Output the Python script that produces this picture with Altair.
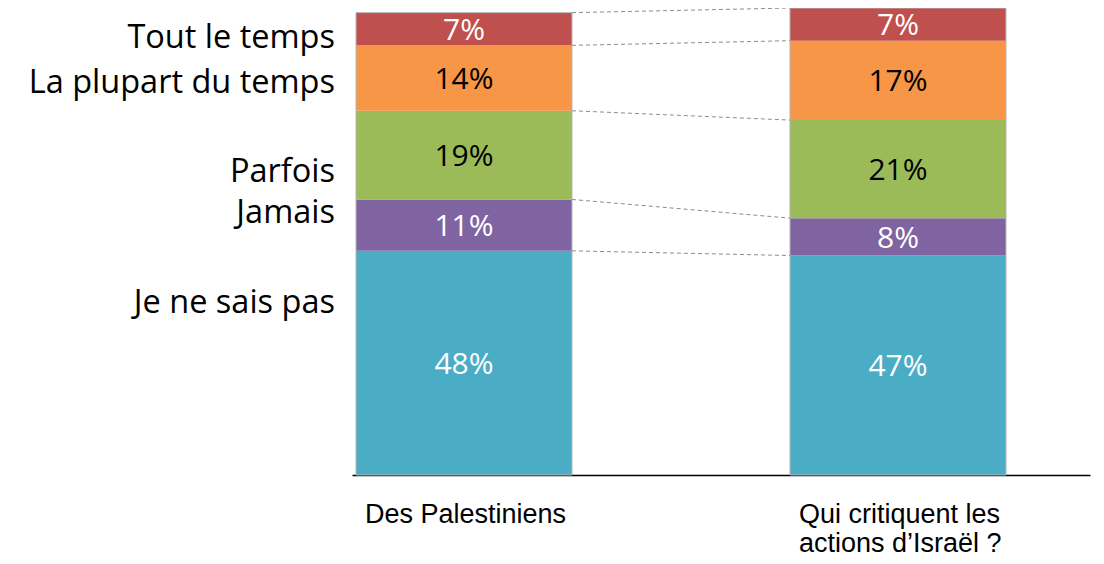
import altair as alt
import pandas as pd

# ---- data ----
categories = ["Des Palestiniens", "Qui critiquent les\nactions d\u2019Isra\u00ebl ?"]
responses = ["Je ne sais pas", "Jamais", "Parfois", "La plupart du temps", "Tout le temps"]  # bottom -> top
values_palestiniens = [48, 11, 19, 14, 7]
values_critiques = [47, 8, 21, 17, 7]
colors = ["#4BACC6", "#8064A2", "#9BBB59", "#F79646", "#C0504D"]
text_colors = ["white", "white", "black", "black", "white"]

# legend label baselines (layout, pixels from plot top)
legend_baseline = [305, 215, 174, 85, 40]

rows = []
for cat, vals in zip(categories, [values_palestiniens, values_critiques]):
    acc = 0
    for i, (r, v) in enumerate(zip(responses, vals)):
        rows.append(dict(cat=cat, resp=r, value=v, y0=acc, y1=acc + v,
                         mid=acc + v / 2, label=f"{v}%", tcolor=text_colors[i]))
        acc += v
df = pd.DataFrame(rows)

tot = df.groupby("cat", sort=False)["value"].sum().reset_index()

c1 = df[df.cat == categories[0]].reset_index(drop=True)
c2 = df[df.cat == categories[1]].reset_index(drop=True)
conn = pd.DataFrame(dict(a=categories[0], b=categories[1], ya=c1.y1, yb=c2.y1))

leg = pd.DataFrame(dict(resp=responses, ypx=legend_baseline))

xscale = alt.Scale(domain=categories, paddingInner=0.5023, paddingOuter=0.1014, align=0.0455)
yscale = alt.Scale(domain=[0, 100])
xaxis = alt.Axis(title=None, ticks=False, grid=False, domain=True,
                 domainColor="black", domainWidth=1.5,
                 labelFont="Liberation Sans", labelFontSize=27, labelColor="black",
                 labelAngle=0,
                 labelAlign="left", labelBaseline="top", labelOffset=-99,
                 labelPadding=26, labelLineHeight=29, labelLimit=500,
                 labelOverlap=False,
                 labelExpr="split(datum.label, '\\n')")

bars = alt.Chart(df).mark_bar().encode(
    x=alt.X("cat:N", scale=xscale, sort=categories, axis=xaxis),
    y=alt.Y("y0:Q", scale=yscale, axis=None),
    y2="y1:Q",
    color=alt.Color("resp:N", scale=alt.Scale(domain=responses, range=colors), legend=None),
)

outline = alt.Chart(tot).mark_bar(fill="transparent", stroke="#b5b5b5", strokeWidth=1).encode(
    x=alt.X("cat:N", scale=xscale, sort=categories, axis=xaxis),
    y=alt.Y("value:Q", scale=yscale, axis=None),
)

connectors = alt.Chart(conn).mark_rule(color="#8c8c8c", strokeDash=[4, 3], strokeWidth=1).encode(
    x=alt.X("a:N", scale=xscale, bandPosition=1, axis=xaxis),
    x2=alt.X2("b:N", bandPosition=0),
    y=alt.Y("ya:Q", scale=yscale, axis=None),
    y2="yb:Q",
)

pct = alt.Chart(df).mark_text(font="Open Sans", fontSize=30, baseline="middle", dy=2).encode(
    x=alt.X("cat:N", scale=xscale, sort=categories, axis=xaxis),
    y=alt.Y("mid:Q", scale=yscale, axis=None),
    text="label:N",
    color=alt.Color("tcolor:N", scale=None),
)

legend_text = alt.Chart(leg).mark_text(font="Open Sans", fontSize=32.5, align="right",
                                       baseline="alphabetic", color="black").encode(
    x=alt.value(-17),
    y=alt.Y("ypx:Q", scale=None),
    text="resp:N",
)

chart = alt.layer(bars, outline, connectors, pct, legend_text).properties(
    width=738, height=467,
    autosize=alt.AutoSizeParams(type="none"),
    padding={"left": 344, "top": 0, "right": 6, "bottom": 81},
).configure_view(stroke=None)

chart.save("out.html", embed_options={"renderer": "svg", "actions": False})
